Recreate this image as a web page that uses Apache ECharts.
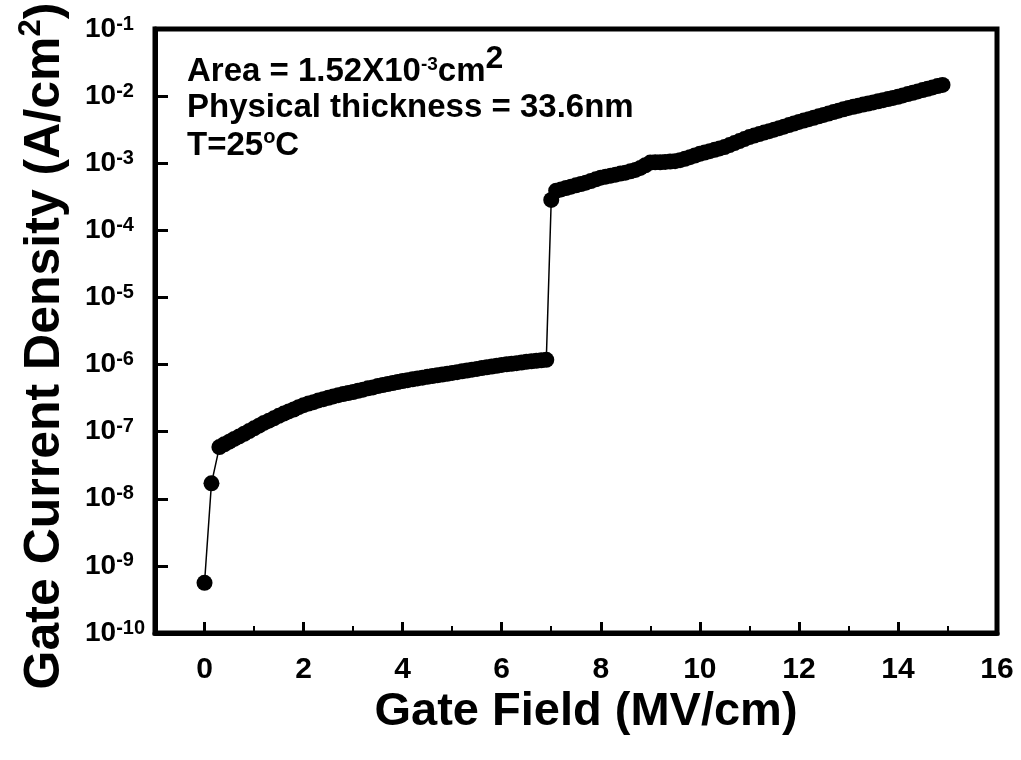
<!DOCTYPE html>
<html>
<head>
<meta charset="utf-8">
<script src="https://cdn.jsdelivr.net/npm/echarts@6/dist/echarts.min.js"></script>
<style>
  html, body { margin: 0; padding: 0; background: #fff; }
  #chart { width: 1021px; height: 760px; }
</style>
</head>
<body>
<div id="chart"></div>
<script>
// Gate field (MV/cm), before the breakdown jump
var fieldLow = [0, 0.14, 0.3, 0.4, 0.5, 0.6, 0.7, 0.8, 0.9, 1.0,
  1.1, 1.2, 1.3, 1.4, 1.5, 1.6, 1.7, 1.8, 1.9, 2.0,
  2.1, 2.2, 2.3, 2.4, 2.5, 2.6, 2.7, 2.8, 2.9, 3.0,
  3.1, 3.2, 3.3, 3.4, 3.5, 3.6, 3.7, 3.8, 3.9, 4.0,
  4.1, 4.2, 4.3, 4.4, 4.5, 4.6, 4.7, 4.8, 4.9, 5.0,
  5.1, 5.2, 5.3, 5.4, 5.5, 5.6, 5.7, 5.8, 5.9, 6.0,
  6.1, 6.2, 6.3, 6.4, 6.5, 6.6, 6.7, 6.8, 6.9]
// gate current density (A/cm2)
var densityLow = [5.6e-10, 1.7e-8, 5.9e-8, 6.5e-8, 7.1e-8, 7.8e-8, 8.5e-8, 9.3e-8, 1.02e-7, 1.12e-7,
  1.23e-7, 1.35e-7, 1.46e-7, 1.58e-7, 1.72e-7, 1.86e-7, 2.0e-7, 2.14e-7, 2.32e-7, 2.48e-7,
  2.63e-7, 2.75e-7, 2.92e-7, 3.05e-7, 3.2e-7, 3.35e-7, 3.5e-7, 3.63e-7, 3.76e-7, 3.9e-7,
  4.07e-7, 4.22e-7, 4.42e-7, 4.57e-7, 4.79e-7, 4.95e-7, 5.13e-7, 5.3e-7, 5.5e-7, 5.69e-7,
  5.86e-7, 6.03e-7, 6.21e-7, 6.38e-7, 6.56e-7, 6.75e-7, 6.92e-7, 7.11e-7, 7.3e-7, 7.5e-7,
  7.71e-7, 7.93e-7, 8.15e-7, 8.38e-7, 8.61e-7, 8.85e-7, 9.1e-7, 9.33e-7, 9.59e-7, 9.86e-7,
  1.007e-6, 1.028e-6, 1.05e-6, 1.07e-6, 1.1e-6, 1.12e-6, 1.135e-6, 1.155e-6, 1.175e-6]

// after the jump
var fieldHigh = [7.0, 7.1, 7.2, 7.3, 7.4, 7.5, 7.6, 7.7, 7.8, 7.9,
  8.0, 8.1, 8.2, 8.3, 8.4, 8.5, 8.6, 8.7, 8.8, 8.9,
  9.0, 9.1, 9.2, 9.3, 9.4, 9.5, 9.6, 9.7, 9.8, 9.9,
  10.0, 10.1, 10.2, 10.3, 10.4, 10.5, 10.6, 10.7, 10.8, 10.9,
  11.0, 11.1, 11.2, 11.3, 11.4, 11.5, 11.6, 11.7, 11.8, 11.9,
  12.0, 12.1, 12.2, 12.3, 12.4, 12.5, 12.6, 12.7, 12.8, 12.9,
  13.0, 13.1, 13.2, 13.3, 13.4, 13.5, 13.6, 13.7, 13.8, 13.9,
  14.0, 14.1, 14.2, 14.3, 14.4, 14.5, 14.6, 14.7, 14.8, 14.9]
var densityHigh = [2.84e-4, 3.89e-4, 4.07e-4, 4.27e-4, 4.47e-4, 4.68e-4, 4.9e-4, 5.13e-4, 5.43e-4, 5.75e-4,
  6.1e-4, 6.31e-4, 6.53e-4, 6.76e-4, 7.0e-4, 7.24e-4, 7.59e-4, 7.94e-4, 8.51e-4, 9.33e-4,
  1.023e-3, 1.035e-3, 1.035e-3, 1.047e-3, 1.059e-3, 1.072e-3, 1.109e-3, 1.161e-3, 1.23e-3, 1.303e-3,
  1.38e-3, 1.445e-3, 1.514e-3, 1.585e-3, 1.66e-3, 1.738e-3, 1.862e-3, 1.995e-3, 2.138e-3, 2.291e-3,
  2.455e-3, 2.582e-3, 2.716e-3, 2.858e-3, 3.006e-3, 3.162e-3, 3.327e-3, 3.508e-3, 3.698e-3, 3.908e-3,
  4.121e-3, 4.325e-3, 4.539e-3, 4.764e-3, 5.0e-3, 5.248e-3, 5.508e-3, 5.781e-3, 6.067e-3, 6.368e-3,
  6.668e-3, 6.934e-3, 7.211e-3, 7.482e-3, 7.762e-3, 8.054e-3, 8.375e-3, 8.71e-3, 9.036e-3, 9.397e-3,
  9.772e-3, 1.023e-2, 1.072e-2, 1.122e-2, 1.175e-2, 1.23e-2, 1.288e-2, 1.349e-2, 1.413e-2, 1.469e-2]

var xMajor = [0, 2, 4, 6, 8, 10, 12, 14, 16]
var xMinor = [1, 3, 5, 7, 9, 11, 13, 15]

var FONT = 'Liberation Sans, Arial, sans-serif'

var points = []
var allField = fieldLow.concat(fieldHigh)
var allDensity = densityLow.concat(densityHigh)
allField.forEach(function (x, i) {
  points.push([x, allDensity[i]])
})

// rich-text piece; pad lifts it up (superscripts)
function txt(size, pad) {
  return {
    fontSize: size, lineHeight: size, fontWeight: 'bold', fontFamily: FONT,
    fill: '#000', color: '#000', verticalAlign: 'bottom',
    padding: [0, 0, pad || 0, 0]
  }
}

var myChart = echarts.init(document.getElementById('chart'))
var option = {
  animation: false,
  grid: {
    left: 155,
    right: 24,
    top: 29,
    bottom: 127,
    show: true,
    borderColor: '#000',
    borderWidth: 5
  },
  xAxis: [{
    type: 'value',
    min: -1,
    max: 16,
    position: 'bottom',
    axisLine: { show: true, onZero: false, lineStyle: { color: '#000', width: 5 } },
    axisTick: { show: true, inside: true, length: 11, customValues: xMajor.slice(0, 8), lineStyle: { color: '#000', width: 3 } },
    axisLabel: {
      customValues: xMajor,
      margin: 22,
      color: '#000',
      fontSize: 30,
      fontWeight: 'bold',
      fontFamily: FONT
    },
    splitLine: { show: false }
  }, {
    type: 'value',
    min: -1,
    max: 16,
    position: 'bottom',
    axisLine: { show: false },
    axisTick: { show: true, inside: true, length: 7, customValues: xMinor, lineStyle: { color: '#000', width: 2 } },
    axisLabel: { show: false },
    splitLine: { show: false }
  }],
  yAxis: {
    type: 'log',
    logBase: 10,
    min: 1e-10,
    max: 1e-1,
    axisLine: { show: true, onZero: false, lineStyle: { color: '#000', width: 5 } },
    axisTick: { show: true, inside: true, length: 13, lineStyle: { color: '#000', width: 3 } },
    minorTick: { show: false },
    splitLine: { show: false },
    axisLabel: {
      margin: 70,
      align: 'left',
      showMinLabel: true,
      showMaxLabel: true,
      formatter: function (v) {
        return '{b|10}{s|' + Math.round(Math.log10(v)) + '}'
      },
      rich: {
        b: txt(28),
        s: txt(20, 9)
      }
    }
  },
  graphic: [{
    type: 'text',
    left: 187,
    top: 43,
    style: {
      text: '{m|Area = 1.52X10}{s|-3}{m|cm}{b|2}',
      rich: {
        m: txt(33),
        s: txt(19, 14),
        b: txt(32, 13)
      }
    }
  }, {
    type: 'text',
    x: 187,
    y: 108,
    style: {
      text: 'Physical thickness = 33.6nm',
      font: 'bold 33px ' + FONT,
      fill: '#000',
      align: 'left',
      verticalAlign: 'middle'
    }
  }, {
    type: 'text',
    left: 187,
    top: 127,
    style: {
      text: '{m|T=25}{s|o}{m|C}',
      rich: {
        m: txt(33),
        s: txt(20, 15)
      }
    }
  }, {
    type: 'text',
    x: 586,
    y: 712,
    style: {
      text: 'Gate Field (MV/cm)',
      font: 'bold 47px ' + FONT,
      fill: '#000',
      align: 'center',
      verticalAlign: 'middle'
    }
  }, {
    type: 'text',
    x: 45,
    y: 346,
    rotation: Math.PI / 2,
    style: {
      text: '{m|Gate Current Density (A/cm}{s|2}{m|)}',
      align: 'center',
      verticalAlign: 'middle',
      rich: {
        m: txt(50),
        s: txt(31, 23)
      }
    }
  }],
  series: [{
    type: 'line',
    xAxisIndex: 0,
    data: points,
    symbol: 'circle',
    symbolSize: 16,
    showAllSymbol: true,
    itemStyle: { color: '#000' },
    lineStyle: { color: '#000', width: 1.5 }
  }]
}
myChart.setOption(option)
</script>
</body>
</html>
